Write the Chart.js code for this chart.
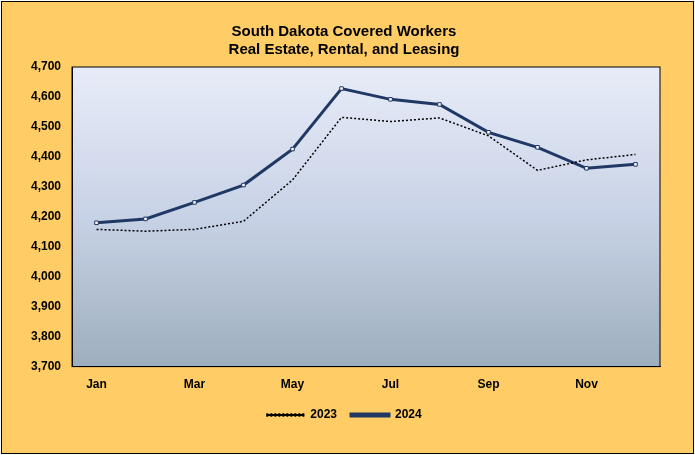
<!DOCTYPE html>
<html><head><meta charset="utf-8">
<script src="https://cdn.jsdelivr.net/npm/chart.js@4"></script>
<style>
html,body{margin:0;padding:0;background:#fff;}
#wrap{position:absolute;left:1px;top:1px;width:691px;height:451px;background:#FFCC66;border:1px solid #000;}
canvas{display:block;}
</style></head><body>
<div id="wrap"><canvas id="c" width="691" height="451"></canvas></div>
<script>
const months=['Jan','Feb','Mar','Apr','May','Jun','Jul','Aug','Sep','Oct','Nov','Dec'];
const s2023=[4158,4152,4158,4185,4323,4532,4518,4530,4470,4355,4390,4408];
const s2024=[4180,4193,4248,4306,4426,4628,4592,4575,4482,4432,4362,4375];
const navy='#1F3864';
const bg={id:'bg',beforeDraw(ch){const a=ch.chartArea,c=ch.ctx;const g=c.createLinearGradient(0,a.top,0,a.bottom);g.addColorStop(0,'#E8ECF8');g.addColorStop(0.5,'#C8D2E6');g.addColorStop(1,'#9DAEBE');c.save();c.fillStyle=g;c.fillRect(a.left,a.top,a.right-a.left,a.bottom-a.top);c.strokeStyle='#000';c.lineWidth=1;c.strokeRect(a.left,a.top,a.right-a.left,a.bottom-a.top);c.restore();}};
new Chart(document.getElementById('c'),{type:'line',
data:{labels:months,datasets:[
{label:'2023',data:s2023,borderColor:'#000',backgroundColor:'#000',borderWidth:1.5,borderDash:[2,2],pointRadius:0,tension:0},
{label:'2024',data:s2024,borderColor:navy,backgroundColor:navy,borderWidth:3,pointStyle:'rect',pointRadius:2.5,pointBorderWidth:1,pointBorderColor:navy,pointBackgroundColor:'#fff',tension:0}]},
options:{responsive:false,animation:false,
layout:{padding:{left:26,right:33,top:5,bottom:22}},
plugins:{title:{display:true,text:['South Dakota Covered Workers','Real Estate, Rental, and Leasing'],color:'#000',font:{family:'Arial',size:15,weight:'bold'},lineHeight:1.3,padding:{top:16,bottom:8}},
legend:{position:'bottom',labels:{color:'#000',font:{family:'Arial',size:12,weight:'bold'},boxWidth:38,boxHeight:2,padding:14}}},
scales:{x:{offset:true,grid:{display:false},border:{color:'#000'},ticks:{autoSkip:false,maxRotation:0,color:'#000',font:{family:'Arial',size:12,weight:'bold'},callback:(v,i)=>i%2===0?months[i]:''}},
y:{min:3700,max:4700,grid:{display:false},border:{color:'#000'},ticks:{stepSize:100,color:'#000',font:{family:'Arial',size:12,weight:'bold'},callback:v=>v.toLocaleString('en-US')}}}},
plugins:[bg]});
</script></body></html>
